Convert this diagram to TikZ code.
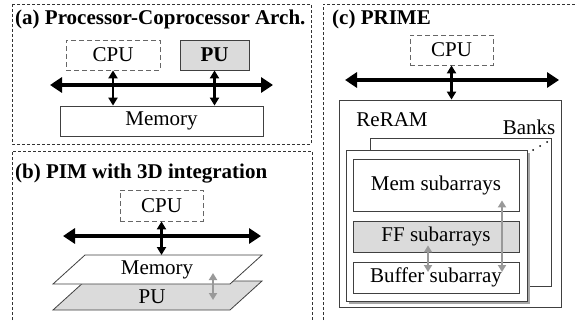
\documentclass[tikz,border=0pt]{standalone}
\usepackage{fontspec}
\setmainfont{Liberation Serif}
\newfontfamily\figfont{Liberation Serif}
\usetikzlibrary{arrows.meta}
\definecolor{pugray}{gray}{0.86}
\definecolor{arrgray}{gray}{0.6}
\tikzset{box/.style={draw=black!75, line width=0.8pt, fill=white, inner sep=0pt, font=\figfont\fontsize{21}{24}\selectfont}}
\tikzset{dbox/.style={box, draw=black!60, dash pattern=on 5pt off 3pt}}
\tikzset{panel/.style={draw=black!80, line width=0.7pt, dash pattern=on 3pt off 2pt}}
\tikzset{bus/.style={line width=4pt, {Triangle[length=12pt,width=15pt]}-{Triangle[length=12pt,width=15pt]}}}
\tikzset{link/.style={line width=2.2pt, {Triangle[length=8pt,width=9pt]}-{Triangle[length=8pt,width=9pt]}}}
\tikzset{glink/.style={line width=2.6pt, draw=arrgray, {Triangle[length=7pt,width=8pt]}-{Triangle[length=7pt,width=8pt]}}}
\tikzset{title/.style={anchor=base west, inner sep=0pt, font=\figfont\fontsize{21}{24}\selectfont\bfseries}}
\tikzset{lbl/.style={inner sep=0pt, font=\figfont\fontsize{21}{24}\selectfont}}

\begin{document}
\begin{tikzpicture}[x=1pt, y=-1pt]
        \useasboundingbox (0,0) rectangle (577,321);
        \clip (0,0) rectangle (577,321);

        % panels
        \draw[panel] (12,4) rectangle (311,144);
        \draw[panel] (12,340) -- (12,151) -- (312,151) -- (312,340);
        \draw[panel] (323,340) -- (323,4) -- (600,4);

        % (a)
        \node[title] (titleA) at (15,25) {(a) Processor-Coprocessor Arch.};
        \node[dbox, minimum width=94pt, minimum height=30pt] (cpuA) at (113,55) {CPU};
        \node[box, fill=pugray, minimum width=69pt, minimum height=30pt, font=\figfont\fontsize{21}{24}\selectfont\bfseries] (puA) at (214.5,55) {PU};
        \node[box, minimum width=203pt, minimum height=30pt] (memA) at (161.5,121) {Memory};
        \coordinate (busAL) at (50,85);
        \coordinate (busAR) at (273,85);
        \draw[bus] (busAL) -- (busAR);
        \draw[link] (cpuA.south) -- (cpuA.south |- memA.north);
        \draw[link] (puA.south) -- (puA.south |- memA.north);

        % (b)
        \node[title] (titleB) at (15,178) {(b) PIM with 3D integration};
        \node[dbox, minimum width=83pt, minimum height=31pt] (cpuB) at (161.5,205.5) {CPU};
        \coordinate (busBL) at (63,236);
        \coordinate (busBR) at (261,236);
        \draw[bus] (busBL) -- (busBR);
        \filldraw[box, fill=pugray] (85,281) -- (262,281) -- (230,310) -- (53,310) -- cycle;
        \filldraw[box] (85,255) -- (262,255) -- (230,284) -- (53,284) -- cycle;
        \node[lbl] (memB) at (157,270) {Memory};
        \node[lbl] (puB) at (152,297) {PU};
        \coordinate (memBtop) at (161,255);
        \draw[link] (cpuB.south) -- (cpuB.south |- memBtop);
        \coordinate (stackT) at (213,273);
        \coordinate (stackB) at (213,300);
        \draw[glink] (stackT) -- (stackB);

        % (c)
        \node[title] (titleC) at (332,25) {(c) PRIME};
        \node[dbox, minimum width=83pt, minimum height=30pt] (cpuC) at (451.5,50) {CPU};
        \coordinate (busCL) at (345,80);
        \coordinate (busCR) at (559,80);
        \draw[bus] (busCL) -- (busCR);
        \node[box, minimum width=222pt, minimum height=207pt] (reram) at (450,203.5) {};
        \draw[link] (cpuC.south) -- (cpuC.south |- reram.north);
        \node[lbl] (reramlbl) at (392,120) {ReRAM};
        \node[lbl] (bankslbl) at (529,127) {Banks};
        \node[box, minimum width=181pt, minimum height=148pt] (bankB) at (460.5,212) {};
        \fill (533,150) circle (1pt) (540,146) circle (1pt) (547,142) circle (1pt);
        \fill[black!35] (349,153) rectangle (530,304);
        \node[box, minimum width=181pt, minimum height=151pt] (bankF) at (436.5,225.5) {};
        \node[box, minimum width=166pt, minimum height=52pt] (memS) at (436,185) {Mem subarrays};
        \node[box, fill=pugray, minimum width=166pt, minimum height=31pt] (ffS) at (436,236.5) {FF subarrays};
        \node[box, minimum width=166pt, minimum height=31pt] (bufS) at (436,277.5) {Buffer subarray};
        \draw[glink] ([xshift=-8pt, yshift=7pt]ffS.south) -- ([xshift=-8pt, yshift=5.5pt]bufS.center);
        \draw[glink] ([xshift=66pt, yshift=11pt]memS.south) -- ([xshift=66pt, yshift=5.5pt]bufS.center);
\end{tikzpicture}
\end{document}
